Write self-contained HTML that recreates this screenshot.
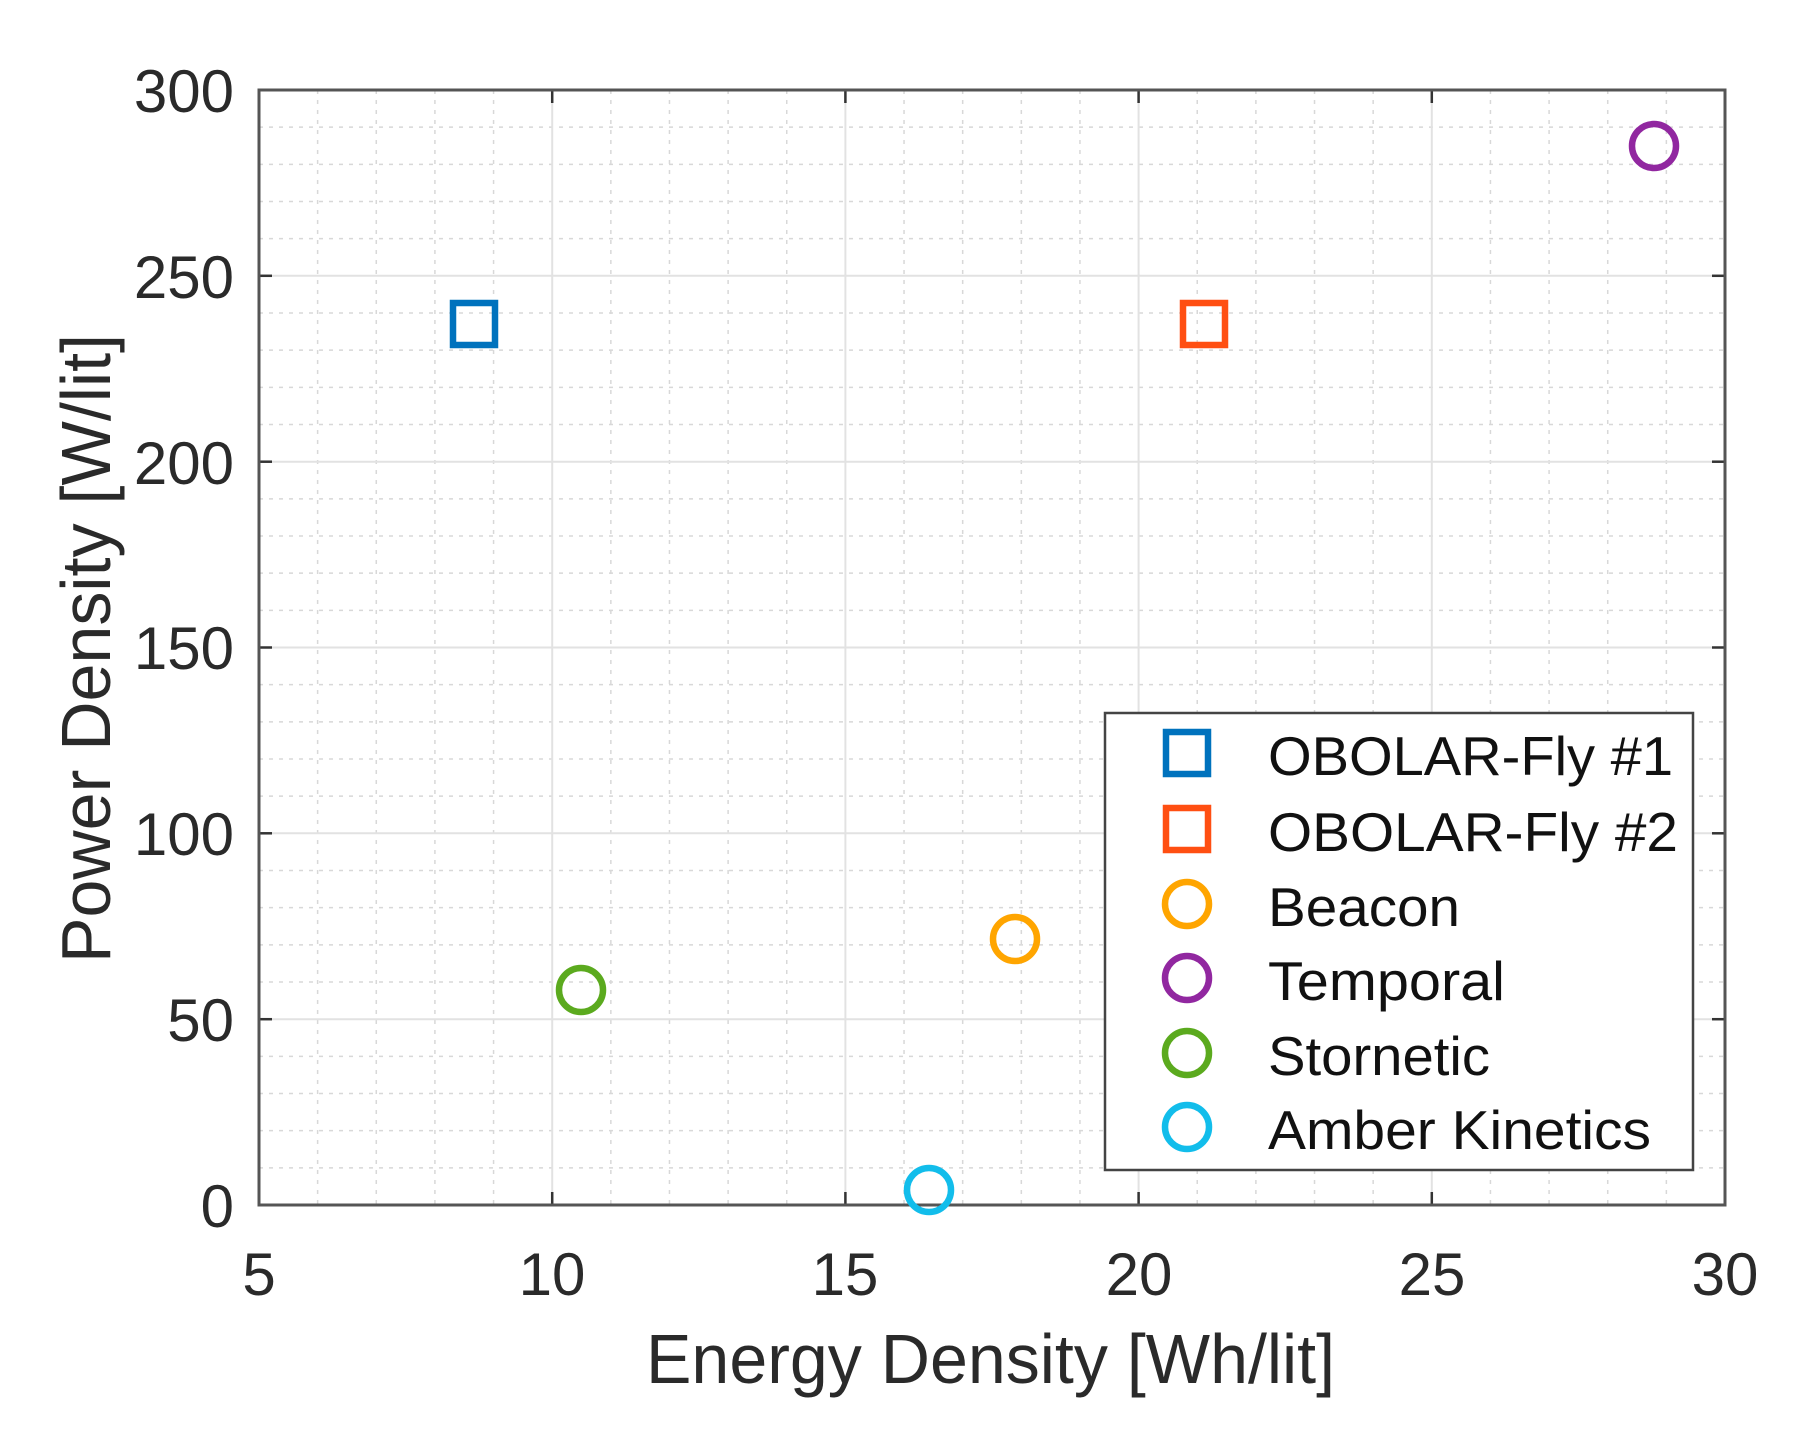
<!DOCTYPE html>
<html><head><meta charset="utf-8"><style>html,body{margin:0;padding:0;background:#fff}svg{display:block}</style></head>
<body>
<svg width="1805" height="1443" viewBox="0 0 1805 1443" xmlns="http://www.w3.org/2000/svg" font-family="Liberation Sans, Arial, sans-serif">
<rect width="1805" height="1443" fill="#fff"/>
<g id="minor" stroke="#d8d8d8" stroke-width="1.5" stroke-dasharray="4,6">
</g>
<script>
(function(){
var ns="http://www.w3.org/2000/svg";
var g=document.getElementById('minor');
var L=259,R=1725,T=90,B=1205;
function X(v){return L+(v-5)*(R-L)/25}
function Y(v){return B-v*(B-T)/300}
for(var v=6;v<30;v++){if(v%5==0)continue;var l=document.createElementNS(ns,'line');l.setAttribute('x1',X(v));l.setAttribute('x2',X(v));l.setAttribute('y1',T);l.setAttribute('y2',B);g.appendChild(l);}
for(var v=10;v<300;v+=10){if(v%50==0)continue;var l=document.createElementNS(ns,'line');l.setAttribute('y1',Y(v));l.setAttribute('y2',Y(v));l.setAttribute('x1',L);l.setAttribute('x2',R);g.appendChild(l);}
})();
</script>
<g stroke="#e2e2e2" stroke-width="2">
<line x1="552.2" y1="90" x2="552.2" y2="1205"/>
<line x1="845.4" y1="90" x2="845.4" y2="1205"/>
<line x1="1138.6" y1="90" x2="1138.6" y2="1205"/>
<line x1="1431.8" y1="90" x2="1431.8" y2="1205"/>
<line x1="259" y1="1019.2" x2="1725" y2="1019.2"/>
<line x1="259" y1="833.3" x2="1725" y2="833.3"/>
<line x1="259" y1="647.5" x2="1725" y2="647.5"/>
<line x1="259" y1="461.7" x2="1725" y2="461.7"/>
<line x1="259" y1="275.8" x2="1725" y2="275.8"/>
</g>
<g stroke="#333" stroke-width="2.5">
<line x1="552.2" y1="1205" x2="552.2" y2="1192"/><line x1="845.4" y1="1205" x2="845.4" y2="1192"/><line x1="1138.6" y1="1205" x2="1138.6" y2="1192"/><line x1="1431.8" y1="1205" x2="1431.8" y2="1192"/>
<line x1="552.2" y1="90" x2="552.2" y2="103"/><line x1="845.4" y1="90" x2="845.4" y2="103"/><line x1="1138.6" y1="90" x2="1138.6" y2="103"/><line x1="1431.8" y1="90" x2="1431.8" y2="103"/>
<line x1="259" y1="1019.2" x2="272" y2="1019.2"/><line x1="259" y1="833.3" x2="272" y2="833.3"/><line x1="259" y1="647.5" x2="272" y2="647.5"/><line x1="259" y1="461.7" x2="272" y2="461.7"/><line x1="259" y1="275.8" x2="272" y2="275.8"/>
<line x1="1725" y1="1019.2" x2="1712" y2="1019.2"/><line x1="1725" y1="833.3" x2="1712" y2="833.3"/><line x1="1725" y1="647.5" x2="1712" y2="647.5"/><line x1="1725" y1="461.7" x2="1712" y2="461.7"/><line x1="1725" y1="275.8" x2="1712" y2="275.8"/>
</g>
<rect x="259" y="90" width="1466" height="1115" fill="none" stroke="#555" stroke-width="3"/>
<g fill="#2a2a2a" font-size="60" text-anchor="end">
<text x="234" y="1227">0</text><text x="234" y="1041">50</text><text x="234" y="855">100</text><text x="234" y="669">150</text><text x="234" y="484">200</text><text x="234" y="298">250</text><text x="234" y="112">300</text>
</g>
<g fill="#2a2a2a" font-size="60" text-anchor="middle">
<text x="259" y="1295">5</text><text x="552" y="1295">10</text><text x="845" y="1295">15</text><text x="1139" y="1295">20</text><text x="1432" y="1295">25</text><text x="1725" y="1295">30</text>
</g>
<text x="646" y="1383" font-size="70" fill="#2a2a2a" textLength="689" lengthAdjust="spacingAndGlyphs">Energy Density [Wh/lit]</text>
<text transform="translate(110,963) rotate(-90)" font-size="70" fill="#2a2a2a" textLength="629" lengthAdjust="spacingAndGlyphs">Power Density [W/lit]</text>
<g fill="none" stroke-width="6.5">
<rect x="453" y="303" width="42" height="42" stroke="#0072BD"/>
<rect x="1183" y="303" width="42" height="42" stroke="#FF4F12"/>
<circle cx="1654" cy="146" r="22" stroke="#9127A0"/>
<circle cx="1015" cy="939" r="22" stroke="#FFA500"/>
<circle cx="581" cy="990" r="22" stroke="#5BAA1E"/>
<circle cx="929" cy="1190" r="22" stroke="#12BDEB"/>
</g>
<rect x="1105" y="713" width="588" height="457" fill="#fff" stroke="#444" stroke-width="2.5"/>
<g fill="none" stroke-width="6.5">
<rect x="1166" y="732" width="42" height="42" stroke="#0072BD"/>
<rect x="1166" y="808" width="42" height="42" stroke="#FF4F12"/>
<circle cx="1187" cy="904" r="22" stroke="#FFA500"/>
<circle cx="1187" cy="978" r="22" stroke="#9127A0"/>
<circle cx="1187" cy="1053" r="22" stroke="#5BAA1E"/>
<circle cx="1187" cy="1127" r="22" stroke="#12BDEB"/>
</g>
<g fill="#111" font-size="55">
<text x="1268" y="775" textLength="405" lengthAdjust="spacingAndGlyphs">OBOLAR-Fly #1</text>
<text x="1268" y="851" textLength="410" lengthAdjust="spacingAndGlyphs">OBOLAR-Fly #2</text>
<text x="1268" y="926" textLength="192" lengthAdjust="spacingAndGlyphs">Beacon</text>
<text x="1268" y="1000" textLength="237" lengthAdjust="spacingAndGlyphs">Temporal</text>
<text x="1268" y="1075" textLength="222" lengthAdjust="spacingAndGlyphs">Stornetic</text>
<text x="1268" y="1149" textLength="383" lengthAdjust="spacingAndGlyphs">Amber Kinetics</text>
</g>
</svg>
</body></html>
